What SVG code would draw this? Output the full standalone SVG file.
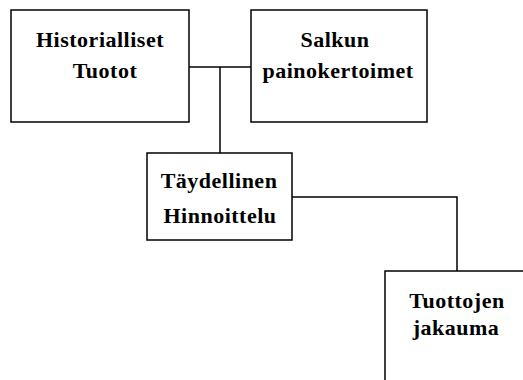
<svg xmlns="http://www.w3.org/2000/svg" width="523" height="380" viewBox="0 0 523 380">
<style>
.box{fill:#fff;stroke:#000;stroke-width:1.5}
.lbl{font-family:"Liberation Serif","Times New Roman",serif;font-weight:bold;font-size:22px;fill:#000;text-anchor:middle;letter-spacing:0.5px}
.con{fill:none;stroke:#000;stroke-width:1.5}
</style>
<rect width="523" height="380" fill="#fff"/>
<g id="connectors">
<path class="con" d="M189,67 H251"/>
<path class="con" d="M220,67 V153"/>
<path class="con" d="M292,197 H457 V271"/>
</g>
<g id="historialliset">
<rect class="box" x="11" y="10" width="178" height="112"/>
<text class="lbl" x="100" y="47">Historialliset</text>
<text class="lbl" x="105" y="78">Tuotot</text>
</g>
<g id="salkun">
<rect class="box" x="251" y="10" width="176" height="112"/>
<text class="lbl" x="335" y="47">Salkun</text>
<text class="lbl" x="338" y="78">painokertoimet</text>
</g>
<g id="taydellinen">
<rect class="box" x="147" y="153" width="145" height="87"/>
<text class="lbl" x="219" y="188">Täydellinen</text>
<text class="lbl" x="220" y="223">Hinnoittelu</text>
</g>
<g id="tuottojen">
<rect class="box" x="385" y="271" width="150" height="120"/>
<text class="lbl" x="457" y="308">Tuottojen</text>
<text class="lbl" x="456" y="335">jakauma</text>
</g>
</svg>
